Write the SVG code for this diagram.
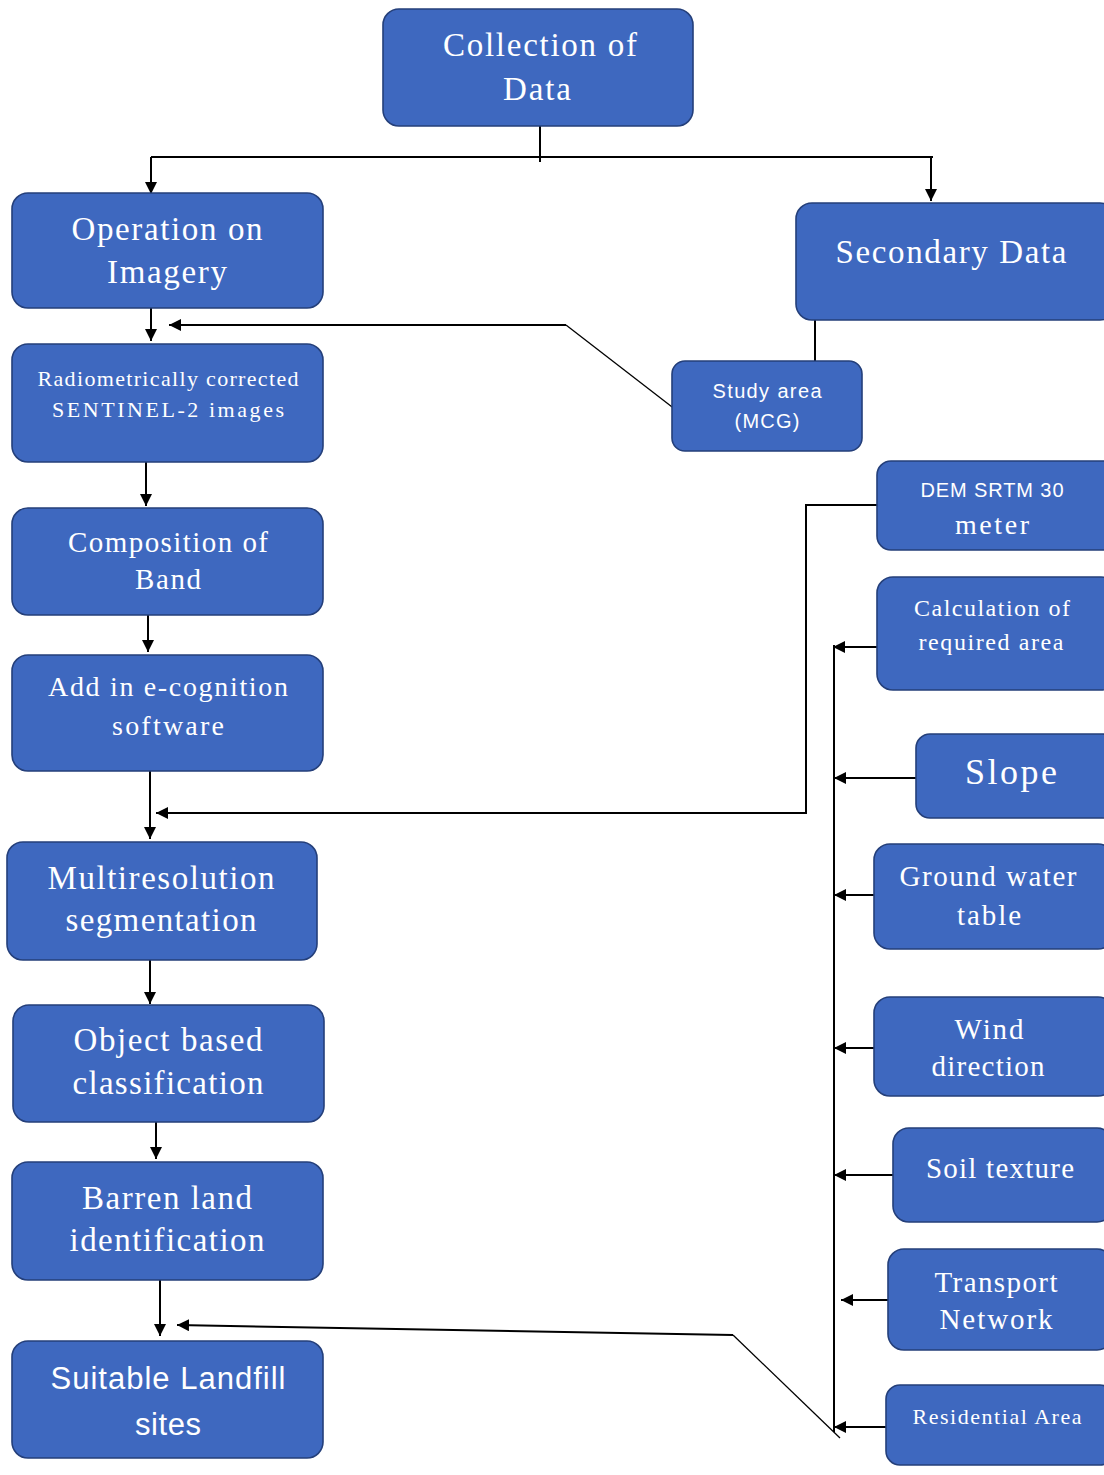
<svg xmlns="http://www.w3.org/2000/svg" width="1104" height="1475" viewBox="0 0 1104 1475">
<style>
.box{fill:#3E68BF;stroke:#243F7A;stroke-width:1.6}
.t{fill:#FFFFFF;font-family:"Liberation Serif","Times New Roman",serif;text-anchor:middle}
.s{fill:#FFFFFF;font-family:"Liberation Sans",Arial,sans-serif;text-anchor:middle}
.c{fill:none;stroke:#000;stroke-width:2}
.d{fill:none;stroke:#000;stroke-width:1.3}
</style>
<defs>
<marker id="ah" markerUnits="userSpaceOnUse" markerWidth="12" markerHeight="12" refX="12" refY="6" orient="auto">
<path d="M0,0 L12,6 L0,12 z" fill="#000"/>
</marker>
</defs>
<rect width="1104" height="1475" fill="#FFFFFF"/>
<g id="connectors">
<path class="c" d="M540 126 V162"/>
<path class="c" d="M151 157 H933"/>
<path class="c" d="M151 157 V194" marker-end="url(#ah)"/>
<path class="c" d="M931 157 V201" marker-end="url(#ah)"/>
<path class="c" d="M151 308 V341" marker-end="url(#ah)"/>
<path class="d" d="M676 410 L566 325"/>
<path class="c" d="M566 325 H169" marker-end="url(#ah)"/>
<path class="c" d="M815 320 V372"/>
<path class="c" d="M146 462 V506" marker-end="url(#ah)"/>
<path class="c" d="M148 615 V652" marker-end="url(#ah)"/>
<path class="c" d="M150 771 V839" marker-end="url(#ah)"/>
<path class="c" d="M877 505 H806 V813 H156" marker-end="url(#ah)"/>
<path class="c" d="M150 960 V1004" marker-end="url(#ah)"/>
<path class="c" d="M156 1122 V1159" marker-end="url(#ah)"/>
<path class="c" d="M160 1280 V1336" marker-end="url(#ah)"/>
<path class="d" d="M840 1438 L733 1335"/>
<path class="c" d="M733 1335 L177 1325" marker-end="url(#ah)"/>
<path class="c" d="M834 645 V1432"/>
<path class="c" d="M877 647 H833" marker-end="url(#ah)"/>
<path class="c" d="M916 778 H834" marker-end="url(#ah)"/>
<path class="c" d="M884 895 H834" marker-end="url(#ah)"/>
<path class="c" d="M880 1048 H834" marker-end="url(#ah)"/>
<path class="c" d="M893 1175 H834" marker-end="url(#ah)"/>
<path class="c" d="M888 1300 H841" marker-end="url(#ah)"/>
<path class="c" d="M886 1427 H834" marker-end="url(#ah)"/>
</g>
<g id="collection">
<rect class="box" x="383" y="9" width="310" height="117" rx="16"/>
<text class="t" x="540" y="56" font-size="33" textLength="194">Collection of</text>
<text class="t" x="537" y="100" font-size="33" textLength="68">Data</text>
</g>
<g id="operation">
<rect class="box" x="12" y="193" width="311" height="115" rx="16"/>
<text class="t" x="167" y="240" font-size="33" textLength="191">Operation on</text>
<text class="t" x="167" y="283" font-size="33" textLength="120">Imagery</text>
</g>
<g id="secondary">
<rect class="box" x="796" y="203" width="320" height="117" rx="16"/>
<text class="t" x="951" y="263" font-size="33" textLength="231">Secondary Data</text>
</g>
<g id="radiometric">
<rect class="box" x="12" y="344" width="311" height="118" rx="16"/>
<text class="t" x="168" y="386" font-size="22" textLength="261">Radiometrically corrected</text>
<text class="t" x="168" y="417" font-size="22" textLength="232">SENTINEL-2 images</text>
</g>
<g id="study">
<rect class="box" x="672" y="361" width="190" height="90" rx="13"/>
<text class="s" x="767" y="398" font-size="20" textLength="109">Study area</text>
<text class="s" x="767" y="428" font-size="20" textLength="65">(MCG)</text>
</g>
<g id="composition">
<rect class="box" x="12" y="508" width="311" height="107" rx="16"/>
<text class="t" x="168" y="552" font-size="29" textLength="200">Composition of</text>
<text class="t" x="168" y="589" font-size="29" textLength="66">Band</text>
</g>
<g id="ecognition">
<rect class="box" x="12" y="655" width="311" height="116" rx="16"/>
<text class="t" x="168" y="696" font-size="28" textLength="240">Add in e-cognition</text>
<text class="t" x="168" y="735" font-size="28" textLength="112">software</text>
</g>
<g id="multiresolution">
<rect class="box" x="7" y="842" width="310" height="118" rx="16"/>
<text class="t" x="161" y="889" font-size="33" textLength="227">Multiresolution</text>
<text class="t" x="161" y="931" font-size="33" textLength="191">segmentation</text>
</g>
<g id="object">
<rect class="box" x="13" y="1005" width="311" height="117" rx="16"/>
<text class="t" x="168" y="1051" font-size="33" textLength="189">Object based</text>
<text class="t" x="168" y="1094" font-size="33" textLength="191">classification</text>
</g>
<g id="barren">
<rect class="box" x="12" y="1162" width="311" height="118" rx="16"/>
<text class="t" x="167" y="1209" font-size="33" textLength="170">Barren land</text>
<text class="t" x="167" y="1251" font-size="33" textLength="195">identification</text>
</g>
<g id="suitable">
<rect class="box" x="12" y="1341" width="311" height="117" rx="16"/>
<text class="s" x="168" y="1389" font-size="31" textLength="235">Suitable Landfill</text>
<text class="s" x="168" y="1435" font-size="31" textLength="66">sites</text>
</g>
<g id="dem">
<rect class="box" x="877" y="461" width="240" height="89" rx="14"/>
<text class="s" x="992" y="497" font-size="20" textLength="143">DEM SRTM 30</text>
<text class="t" x="992" y="534" font-size="28" textLength="74">meter</text>
</g>
<g id="calculation">
<rect class="box" x="877" y="577" width="240" height="113" rx="16"/>
<text class="t" x="992" y="616" font-size="24" textLength="156">Calculation of</text>
<text class="t" x="991" y="650" font-size="24" textLength="145">required area</text>
</g>
<g id="slope">
<rect class="box" x="916" y="734" width="200" height="84" rx="14"/>
<text class="t" x="1011" y="784" font-size="36" textLength="92">Slope</text>
</g>
<g id="groundwater">
<rect class="box" x="874" y="844" width="240" height="105" rx="16"/>
<text class="t" x="988" y="886" font-size="29" textLength="177">Ground water</text>
<text class="t" x="989" y="925" font-size="29" textLength="64">table</text>
</g>
<g id="wind">
<rect class="box" x="874" y="997" width="240" height="99" rx="16"/>
<text class="t" x="989" y="1039" font-size="29" textLength="69">Wind</text>
<text class="t" x="988" y="1076" font-size="29" textLength="113">direction</text>
</g>
<g id="soil">
<rect class="box" x="893" y="1128" width="220" height="94" rx="16"/>
<text class="t" x="1000" y="1178" font-size="29" textLength="148">Soil texture</text>
</g>
<g id="transport">
<rect class="box" x="888" y="1249" width="225" height="101" rx="16"/>
<text class="t" x="996" y="1292" font-size="29" textLength="123">Transport</text>
<text class="t" x="996" y="1329" font-size="29" textLength="113">Network</text>
</g>
<g id="residential">
<rect class="box" x="886" y="1385" width="228" height="80" rx="14"/>
<text class="t" x="997" y="1424" font-size="22" textLength="169">Residential Area</text>
</g>
</svg>
